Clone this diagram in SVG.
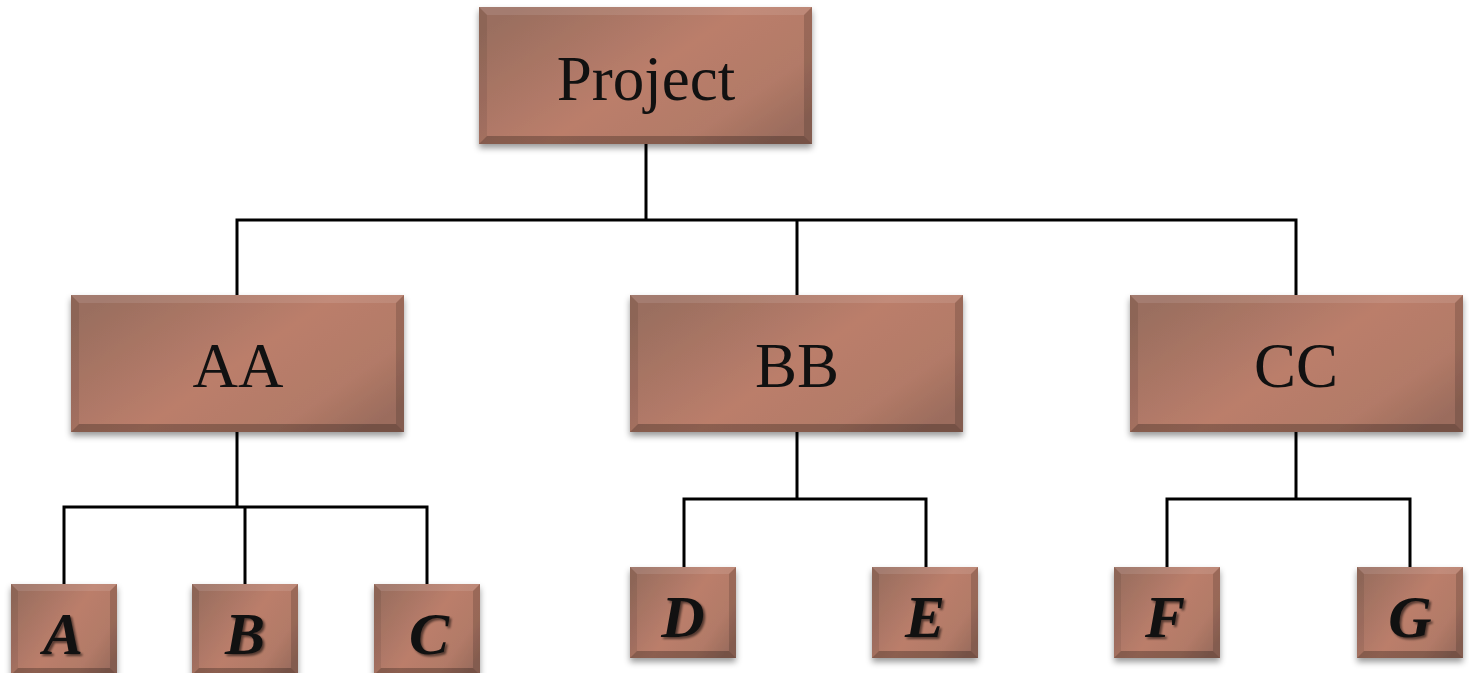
<svg xmlns="http://www.w3.org/2000/svg" xmlns:xlink="http://www.w3.org/1999/xlink" width="1469" height="673" viewBox="0 0 1469 673">
<style>
.lbl{font-family:"Liberation Serif","Times New Roman",serif;font-size:63px;fill:#111;text-anchor:middle}
.leaf{font-family:"Liberation Serif","Times New Roman",serif;font-size:60px;font-weight:bold;font-style:italic;fill:#111;text-anchor:middle}
.lsh{fill:#000;opacity:.55;filter:url(#tblur)}
.con{fill:none;stroke:#000;stroke-width:3;stroke-linecap:square}
</style>
<defs>
<linearGradient id="fillg" x1="0" y1="0.2" x2="1" y2="0.8">
<stop offset="0" stop-color="#9a6e5f"/>
<stop offset="0.5" stop-color="#bb7e6b"/>
<stop offset="0.8" stop-color="#b27a67"/>
<stop offset="1" stop-color="#9b6c5d"/>
</linearGradient>
<filter id="shadow" x="-10%" y="-10%" width="120%" height="130%">
<feDropShadow dx="0" dy="4" stdDeviation="3" flood-color="#000" flood-opacity="0.4"/>
</filter>
<filter id="tblur" x="-20%" y="-20%" width="140%" height="140%">
<feGaussianBlur stdDeviation="1.2"/>
</filter>
<g id="bigbox">
<rect x="0" y="0" width="333" height="137" fill="url(#fillg)"/>
<polygon points="0,0 333,0 325,8 8,8" fill="#fff" opacity="0.1"/>
<polygon points="0,0 8,8 8,129 0,137" fill="#000" opacity="0.08"/>
<polygon points="333,0 333,137 325,129 325,8" fill="#000" opacity="0.15"/>
<polygon points="0,137 8,129 325,129 333,137" fill="#000" opacity="0.25"/>
</g>
<g id="smallbox">
<rect x="0" y="0" width="106" height="91" fill="url(#fillg)"/>
<polygon points="0,0 106,0 99,7 7,7" fill="#fff" opacity="0.1"/>
<polygon points="0,0 7,7 7,84 0,91" fill="#000" opacity="0.08"/>
<polygon points="106,0 106,91 99,84 99,7" fill="#000" opacity="0.15"/>
<polygon points="0,91 7,84 99,84 106,91" fill="#000" opacity="0.25"/>
</g>
</defs>
<rect width="1469" height="673" fill="#fff"/>
<g id="connectors">
<path class="con" d="M646,144 V220 M237,220 H1296 M237,220 V295 M797,220 V295 M1296,220 V295"/>
<path class="con" d="M237,432 V507 M64,507 H427 M64,507 V583 M245,507 V583 M427,507 V583"/>
<path class="con" d="M797,432 V499 M684,499 H926 M684,499 V567 M926,499 V567"/>
<path class="con" d="M1296,432 V499 M1167,499 H1410 M1167,499 V567 M1410,499 V567"/>
</g>
<g id="node-project">
<use xlink:href="#bigbox" href="#bigbox" x="479" y="7" filter="url(#shadow)"/>
<text class="lbl" x="646" y="100">Project</text>
</g>
<g id="node-aa">
<use xlink:href="#bigbox" href="#bigbox" x="71" y="295" filter="url(#shadow)"/>
<text class="lbl" x="238" y="387">AA</text>
</g>
<g id="node-bb">
<use xlink:href="#bigbox" href="#bigbox" x="630" y="295" filter="url(#shadow)"/>
<text class="lbl" x="797" y="387">BB</text>
</g>
<g id="node-cc">
<use xlink:href="#bigbox" href="#bigbox" x="1130" y="295" filter="url(#shadow)"/>
<text class="lbl" x="1296" y="387">CC</text>
</g>
<g id="node-a">
<use xlink:href="#smallbox" href="#smallbox" x="11" y="584" filter="url(#shadow)"/>
<text class="leaf lsh" x="65" y="656">A</text>
<text class="leaf" x="63" y="654">A</text>
</g>
<g id="node-b">
<use xlink:href="#smallbox" href="#smallbox" x="192" y="584" filter="url(#shadow)"/>
<text class="leaf lsh" x="247" y="656">B</text>
<text class="leaf" x="245" y="654">B</text>
</g>
<g id="node-c">
<use xlink:href="#smallbox" href="#smallbox" x="374" y="584" filter="url(#shadow)"/>
<text class="leaf lsh" x="431" y="656">C</text>
<text class="leaf" x="429" y="654">C</text>
</g>
<g id="node-d">
<use xlink:href="#smallbox" href="#smallbox" x="630" y="567" filter="url(#shadow)"/>
<text class="leaf lsh" x="685" y="639">D</text>
<text class="leaf" x="683" y="637">D</text>
</g>
<g id="node-e">
<use xlink:href="#smallbox" href="#smallbox" x="872" y="567" filter="url(#shadow)"/>
<text class="leaf lsh" x="927" y="639">E</text>
<text class="leaf" x="925" y="637">E</text>
</g>
<g id="node-f">
<use xlink:href="#smallbox" href="#smallbox" x="1114" y="567" filter="url(#shadow)"/>
<text class="leaf lsh" x="1167" y="639">F</text>
<text class="leaf" x="1165" y="637">F</text>
</g>
<g id="node-g">
<use xlink:href="#smallbox" href="#smallbox" x="1357" y="567" filter="url(#shadow)"/>
<text class="leaf lsh" x="1412" y="639">G</text>
<text class="leaf" x="1410" y="637">G</text>
</g>
</svg>
